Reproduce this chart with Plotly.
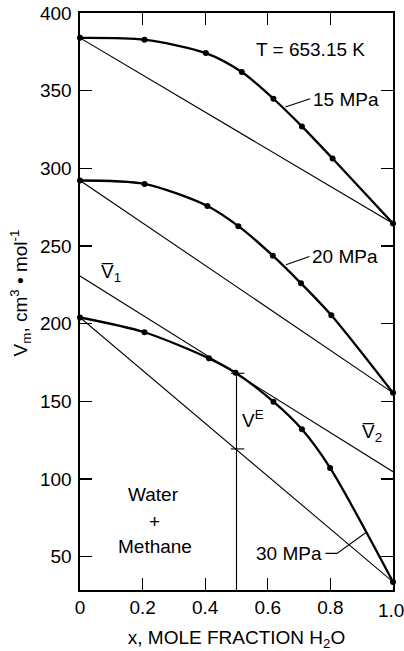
import plotly.graph_objects as go

# ---- data ----
x15 = [0, 0.206, 0.402, 0.517, 0.618, 0.709, 0.807, 1.0]
v15 = [384.0, 382.8, 374.2, 362.0, 344.8, 327.0, 306.3, 264.5]

x20 = [0, 0.206, 0.407, 0.506, 0.616, 0.706, 0.803, 1.0]
v20 = [292.2, 290.0, 275.8, 262.8, 243.8, 226.0, 205.4, 155.5]

x30 = [0, 0.206, 0.412, 0.497, 0.618, 0.709, 0.799, 1.0]
v30 = [204.0, 194.5, 177.7, 168.4, 149.8, 132.0, 107.2, 33.8]

ends_x = [0, 1]
tangent_v = [230.7, 104.7]          # V1 bar (x=0), V2 bar (x=1)

ve_x = 0.5
ve_top = 168.1
ve_bottom = 119.4
ve_tick_x = [0.482, 0.525]

leader15_x = [0.656, 0.735]
leader15_v = [339.5, 344.8]
leader20_x = [0.658, 0.733]
leader20_v = [237.9, 243.2]
leader30_x = [0.784, 0.821, 0.917]
leader30_v = [52.2, 52.2, 66.1]

x_ticks = [0, 0.2, 0.4, 0.6, 0.8, 1.0]
x_ticklabels = ["0", "0.2", "0.4", "0.6", "0.8", ""]
last_x_label = "1.0"
y_ticks = [50, 100, 150, 200, 250, 300, 350, 400]

y_min, y_max = 28.6, 400

FONT = "Liberation Sans, Arial, sans-serif"
FS = 19

fig = go.Figure()

def line(xs, ys, w=1.1):
    fig.add_trace(go.Scatter(x=xs, y=ys, mode="lines",
                             line=dict(color="black", width=w),
                             hoverinfo="skip", showlegend=False))

# chords (ideal mixing lines)
for vs in (v15, v20, v30):
    line(ends_x, [vs[0], vs[-1]])

# tangent line at x = 0.5
line(ends_x, tangent_v)

# V^E vertical line and its end ticks
line([ve_x, ve_x], [y_min, ve_top])
line(ve_tick_x, [ve_top, ve_top])
line(ve_tick_x, [ve_bottom, ve_bottom])

# leaders
line(leader15_x, leader15_v)
line(leader20_x, leader20_v)
line(leader30_x, leader30_v)

# measured curves
for xs, vs in ((x15, v15), (x20, v20), (x30, v30)):
    fig.add_trace(go.Scatter(x=xs, y=vs, mode="lines+markers",
                             line=dict(color="black", width=2.3, shape="spline", smoothing=0.8),
                             marker=dict(color="black", size=6),
                             cliponaxis=False,
                             hoverinfo="skip", showlegend=False))

def ann(text, x, y, xanchor="center", size=FS):
    fig.add_annotation(text=text, x=x, y=y, xref="x", yref="y",
                       xanchor=xanchor, yanchor="middle", showarrow=False,
                       font=dict(family=FONT, size=size, color="black"))

ann("T = 653.15 K", 0.555, 376.4, "left")
ann("15 MPa", 0.737, 344.4, "left")
ann("20 MPa", 0.734, 243.4, "left")
ann("30 MPa", 0.668, 52.4, "center")
ann("V\u0305<sub>1</sub>", 0.062, 232.5, "left")
ann("V\u0305<sub>2</sub>", 0.893, 129.6, "left")
ann("V<sup>E</sup>", 0.51, 138.5, "left")
ann("Water", 0.235, 89.8)
ann("+", 0.238, 72.5)
ann("Methane", 0.24, 56.9)

# last x tick label, nudged to stay inside the page
fig.add_annotation(text=last_x_label, x=1.0, y=0, xref="x", yref="paper",
                   xanchor="center", yanchor="top", yshift=-8, xshift=-2,
                   showarrow=False, font=dict(family=FONT, size=FS, color="black"))

# y axis title as annotation
fig.add_annotation(text="V<sub>m</sub>, cm<sup>3</sup> \u2022 mol<sup>-1</sup>",
                   x=-0.19, y=0.515, xref="paper", yref="paper",
                   xanchor="center", yanchor="middle",
                   textangle=-90, showarrow=False,
                   font=dict(family=FONT, size=FS, color="black"))

axis_common = dict(showline=True, linecolor="black", linewidth=1.6, mirror="ticks",
                   ticks="inside", ticklen=12, tickwidth=1.3, tickcolor="black",
                   showgrid=False, zeroline=False, automargin=False,
                   tickfont=dict(family=FONT, size=FS, color="black"))

fig.update_xaxes(range=[0, 1], tickvals=x_ticks, ticktext=x_ticklabels,
                 title=dict(text="x, MOLE FRACTION H<sub>2</sub>O",
                            font=dict(family=FONT, size=FS, color="black"),
                            standoff=13),
                 **axis_common)
fig.update_yaxes(range=[y_min, y_max], tickvals=y_ticks, ticklabelstandoff=3,
                 **axis_common)

fig.update_layout(width=404, height=651,
                  margin=dict(l=80, r=11, t=13, b=61),
                  plot_bgcolor="white", paper_bgcolor="white",
                  hovermode=False,
                  font=dict(family=FONT, size=FS, color="black"))

# remove the browser's default 8 px body margin so the figure fills the window
fig.write_html("out.html",
               config={"displayModeBar": False, "staticPlot": True},
               post_script="document.body.style.margin='0';document.body.style.overflow='hidden';")
